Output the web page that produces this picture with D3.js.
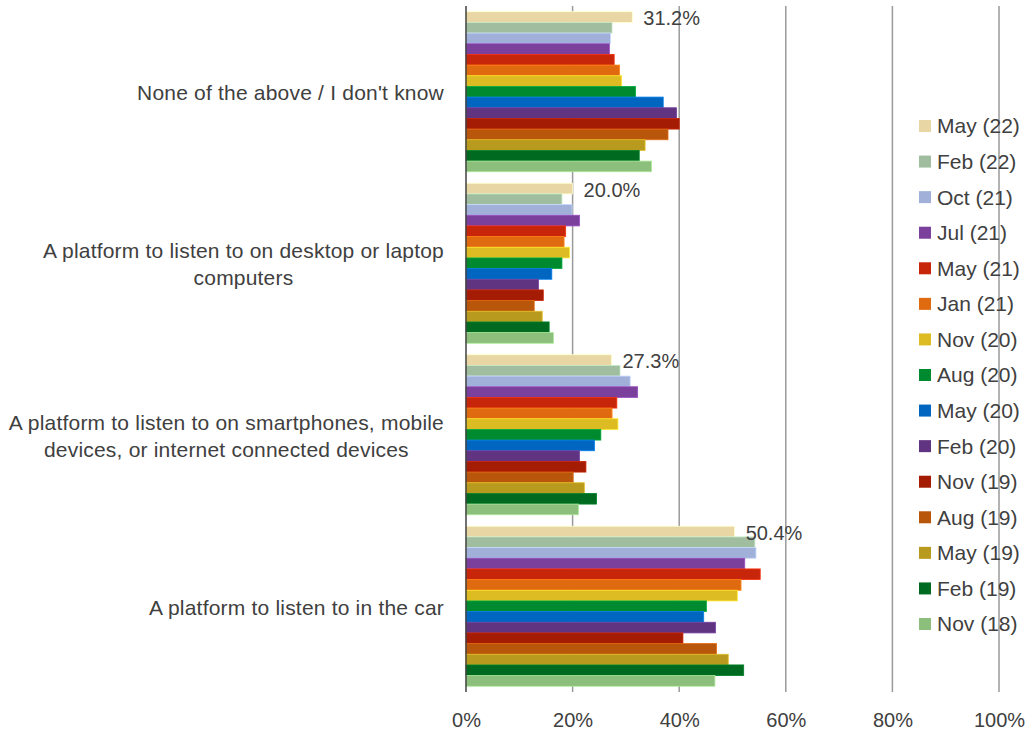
<!DOCTYPE html>
<html>
<head>
<meta charset="utf-8">
<script src="https://cdn.jsdelivr.net/npm/d3@7/dist/d3.min.js"></script>
<style>
  html, body { margin: 0; padding: 0; background: #fff; }
  svg { display: block; font-family: "Liberation Sans", Arial, sans-serif; }
</style>
</head>
<body>
<svg id="chart" width="1028" height="732"></svg>
<script>
// ---- Data ----
const categories = [
  "None of the above / I don't know",
  "A platform to listen to on desktop or laptop\ncomputers",
  "A platform to listen to on smartphones, mobile\ndevices, or internet connected devices",
  "A platform to listen to in the car"
];
const seriesNames = ["May (22)", "Feb (22)", "Oct (21)", "Jul (21)", "May (21)", "Jan (21)", "Nov (20)",
  "Aug (20)", "May (20)", "Feb (20)", "Nov (19)", "Aug (19)", "May (19)", "Feb (19)", "Nov (18)"];
const seriesColors = ["#E8D6A4", "#A0BDA0", "#A0B0D8", "#7B3F9C", "#C8260A", "#E06A10", "#DDBB22",
  "#008A30", "#0066C0", "#613482", "#A51C05", "#B8560C", "#B89A1E", "#006A20", "#8CBE7C"];
// values per category, in series order (fractions)
const noneValues    = [0.312, 0.274, 0.271, 0.269, 0.278, 0.288, 0.292, 0.318, 0.370, 0.395, 0.400, 0.379, 0.336, 0.325, 0.348];
const desktopValues = [0.200, 0.180, 0.199, 0.213, 0.187, 0.184, 0.194, 0.180, 0.161, 0.136, 0.145, 0.128, 0.143, 0.156, 0.164];
const mobileValues  = [0.273, 0.289, 0.308, 0.322, 0.283, 0.274, 0.285, 0.253, 0.241, 0.213, 0.225, 0.201, 0.222, 0.245, 0.211];
const carValues     = [0.504, 0.542, 0.544, 0.523, 0.552, 0.516, 0.509, 0.451, 0.446, 0.468, 0.407, 0.470, 0.492, 0.521, 0.467];
const valuesByCategory = [noneValues, desktopValues, mobileValues, carValues];
const labelledValues = ["31.2%", "20.0%", "27.3%", "50.4%"];
const xTicks = [0, 0.2, 0.4, 0.6, 0.8, 1.0];

// ---- Layout ----
const svg = d3.select("#chart");
const textColor = "#404040";
const x = d3.scaleLinear().domain([0, 1]).range([466, 999]);
const y = d3.scaleBand().domain(d3.range(categories.length)).range([6, 692])
  .paddingInner(0.067).paddingOuter(0.0335);
const ys = d3.scaleBand().domain(d3.range(seriesNames.length)).range([0, y.bandwidth()]).padding(0);

// gridlines
svg.append("g").selectAll("line").data(xTicks.slice(1)).join("line")
  .attr("x1", d => x(d)).attr("x2", d => x(d))
  .attr("y1", 6).attr("y2", 692)
  .attr("stroke", "#9a9a9a").attr("stroke-width", 1.5);

// bars
const groups = svg.append("g").selectAll("g").data(valuesByCategory).join("g")
  .attr("transform", (d, i) => `translate(0,${y(i)})`);
groups.selectAll("rect").data(d => d).join("rect")
  .attr("x", x(0))
  .attr("y", (d, j) => ys(j))
  .attr("width", d => x(d) - x(0))
  .attr("height", ys.bandwidth())
  .attr("fill", (d, j) => seriesColors[j])
  .attr("stroke", (d, j) => d3.color(seriesColors[j]).brighter(0.6))
  .attr("stroke-width", 0.8);

// data labels on the first series
groups.append("text")
  .attr("x", (d) => x(d[0]) + 11)
  .attr("y", ys(0) + ys.bandwidth() / 2 + 1)
  .attr("dy", "0.35em")
  .attr("fill", textColor)
  .attr("font-size", 20)
  .text((d, i) => labelledValues[i]);

// vertical axis line
svg.append("line")
  .attr("x1", x(0)).attr("x2", x(0)).attr("y1", 6).attr("y2", 692)
  .attr("stroke", "#404040").attr("stroke-width", 1.5);

// x axis labels
const xAxis = d3.axisBottom(x).tickValues(xTicks).tickFormat(d3.format(".0%")).tickSize(0).tickPadding(0);
const xg = svg.append("g").attr("transform", "translate(0,692)").call(xAxis);
xg.select(".domain").remove();
xg.selectAll("text").attr("font-size", 20).attr("fill", textColor)
  .attr("font-family", "Liberation Sans, Arial, sans-serif")
  .attr("y", 28).attr("dy", "0.35em").attr("x", 0);

// category labels (block right-aligned, lines centered)
const lineH = 27;
categories.forEach((c, i) => {
  const lines = c.split("\n");
  const cy = y(i) + y.bandwidth() / 2 + 1;
  const t = svg.append("text").attr("font-size", 21).attr("letter-spacing", 0.2)
    .attr("fill", textColor).attr("text-anchor", "middle");
  const spans = lines.map((ln, k) => t.append("tspan")
    .attr("y", cy + (k - (lines.length - 1) / 2) * lineH)
    .attr("dy", "0.35em").text(ln));
  const maxW = d3.max(spans, s => s.node().getComputedTextLength());
  spans.forEach(s => s.attr("x", 444 - maxW / 2));
});

// legend
const legendY = d3.scalePoint().domain(d3.range(seriesNames.length)).range([126, 624]);
const lg = svg.append("g").selectAll("g").data(seriesNames).join("g")
  .attr("transform", (d, j) => `translate(919,${legendY(j)})`);
lg.append("rect").attr("x", 0).attr("y", -6).attr("width", 12).attr("height", 12)
  .attr("fill", (d, j) => seriesColors[j]);
lg.append("text").attr("x", 18).attr("dy", "0.35em").attr("font-size", 21)
  .attr("fill", textColor).text(d => d);
</script>
</body>
</html>
